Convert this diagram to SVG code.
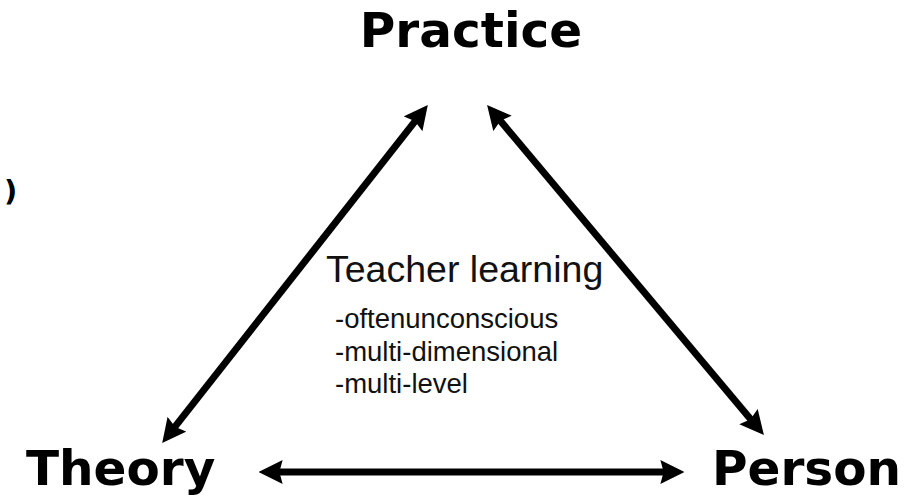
<svg xmlns="http://www.w3.org/2000/svg" width="923" height="499" viewBox="0 0 923 499">
  <style>
    .node { font-family: "DejaVu Sans", Verdana, sans-serif; font-weight: bold; font-size: 48.5px; fill: #000; }
    .title { font-family: "Liberation Sans", Arial, sans-serif; font-size: 37.5px; fill: #111; }
    .item { font-family: "Liberation Sans", Arial, sans-serif; font-size: 27.5px; fill: #111; }
    .conn { stroke: #000; stroke-width: 7; fill: none; marker-start: url(#head); marker-end: url(#head); }
  </style>
  <defs>
    <marker id="head" markerUnits="userSpaceOnUse" markerWidth="24" markerHeight="24" refX="7" refY="11" orient="auto-start-reverse" viewBox="0 0 22 22">
      <path d="M0,0 L22,11 L0,22 L3,11 Z" fill="#000"/>
    </marker>
  </defs>
  <rect width="923" height="499" fill="#fff"/>
  <text x="4" y="201" class="node" style="font-size:29px">)</text>
  <g id="connectors">
    <line class="conn" x1="417.7" y1="117.8" x2="172.3" y2="430.2"/>
    <line class="conn" x1="497.6" y1="117.5" x2="753.4" y2="422.5"/>
    <line class="conn" x1="275" y1="472" x2="668" y2="472"/>
  </g>
  <g id="practice"><text x="471" y="47" class="node" text-anchor="middle">Practice</text></g>
  <g id="theory"><text x="26" y="485" class="node">Theory</text></g>
  <g id="person"><text x="712" y="485" class="node">Person</text></g>
  <g id="teacher-learning">
    <text x="326" y="282" class="title">Teacher learning</text>
    <text x="335" y="328" class="item">-oftenunconscious</text>
    <text x="335" y="361" class="item">-multi-dimensional</text>
    <text x="335" y="393" class="item">-multi-level</text>
  </g>
</svg>
